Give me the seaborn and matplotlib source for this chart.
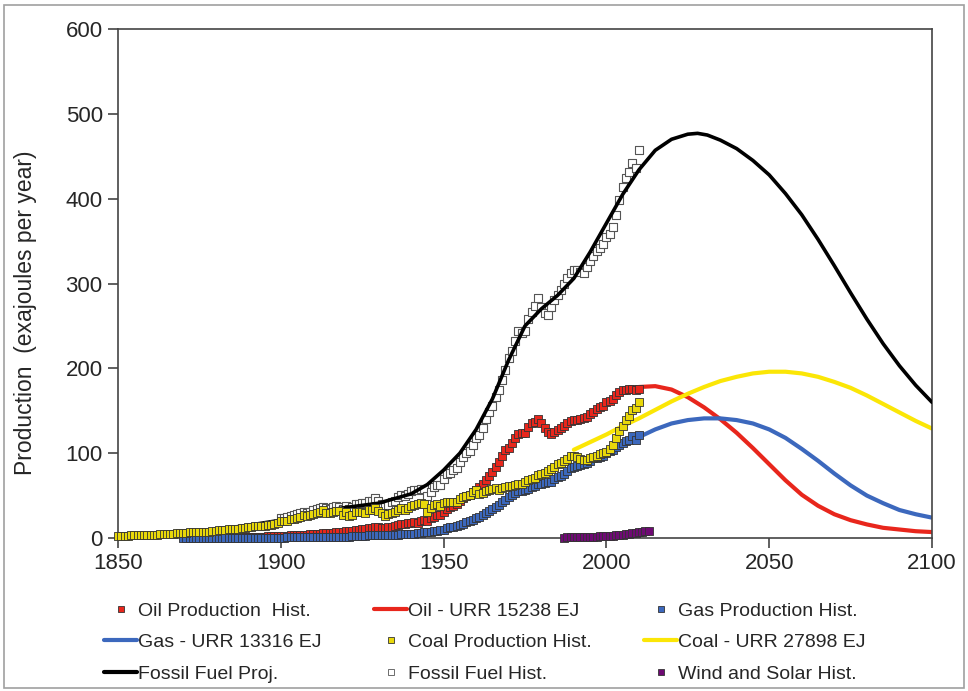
import numpy as np
import pandas as pd
import seaborn as sns
import matplotlib.pyplot as plt
from matplotlib.lines import Line2D
from matplotlib.patches import Rectangle

# --- DATA (EJ per year) ---
oil_years = list(range(1875, 2011))
oil_hist = [0.4, 0.4, 0.5, 0.6, 0.7,
            0.8, 0.8, 0.9, 0.9, 1.0, 1.0, 1.1, 1.1, 1.2, 1.3,
            1.3, 1.5, 1.5, 1.6, 1.6, 1.7, 1.8, 1.9, 2.0, 2.2,
            2.4, 2.6, 2.9, 3.0, 3.3, 3.3, 3.4, 3.8, 4.0, 4.2,
            4.5, 4.7, 5.0, 5.5, 5.8, 6.0, 6.3, 6.8, 6.8, 7.0,
            8.0, 8.2, 8.8, 9.5, 9.8, 10.2, 10.5, 11.4, 12.0, 13.0,
            12.5, 12.2, 11.8, 12.5, 13.0, 14.0, 15.0, 16.5, 16.5, 17.5,
            18.0, 19.0, 18.0, 19.5, 21.0, 20.0, 23.0, 25.0, 27.5, 27.5,
            30.5, 34.0, 36.0, 38.0, 40.0, 44.0, 47.0, 49.0, 51.0, 54.0,
            57.0, 60.0, 64.0, 68.0, 73.0, 78.0, 84.0, 90.0, 97.0, 104.0,
            106, 112, 118, 123, 124, 124, 131, 135, 137, 140,
            136, 130, 125, 123, 125, 127, 130, 132, 135, 138,
            139, 139, 140, 141, 143, 146, 149, 152, 155, 156,
            160, 162, 164, 168, 172, 174, 175, 176, 176, 174, 176]

gas_years = list(range(1870, 2011))
gas_hist = [0.1, 0.1, 0.1, 0.1, 0.1, 0.1, 0.2, 0.2, 0.2, 0.2,
            0.2, 0.2, 0.2, 0.2, 0.2, 0.2, 0.2, 0.3, 0.3, 0.3,
            0.3, 0.3, 0.3, 0.3, 0.3, 0.3, 0.3, 0.3, 0.4, 0.4,
            0.5, 0.5, 0.6, 0.6, 0.6, 0.7, 0.8, 0.9, 0.9, 1.0,
            1.1, 1.1, 1.2, 1.2, 1.3, 1.3, 1.5, 1.6, 1.5, 1.5,
            1.7, 1.6, 1.8, 2.1, 2.4, 2.5, 2.7, 3.0, 3.2, 3.7,
            3.6, 3.3, 3.1, 3.1, 3.4, 3.7, 4.1, 4.5, 4.4, 4.6,
            5.0, 5.3, 5.6, 6.0, 6.5, 6.5, 7.0, 7.8, 8.5, 9.0,
            10.0, 11.5, 12.5, 13.5, 14.5, 15.5, 17.0, 18.5, 19.5, 21.5,
            23.5, 25.0, 27.0, 29.0, 31.5, 34.0, 36.5, 39.0, 42.0, 45.0,
            48.0, 50.5, 53.0, 55.0, 55.5, 56.0, 58.0, 60.0, 61.0, 64.0,
            64.0, 65.0, 65.5, 66.0, 70.0, 72.0, 73.0, 76.0, 79.0, 82.0,
            84.0, 85.0, 86.0, 87.0, 88.0, 91.0, 94.0, 94.0, 95.0, 97.0,
            100.0, 102.0, 104.0, 107.0, 110.0, 112.0, 114.0, 116.0, 120.0, 116.0, 122.0]

coal_years = list(range(1850, 2011))
coal_hist = [2.0, 2.2, 2.4, 2.7, 3.0, 3.1, 3.3, 3.4, 3.4, 3.6,
             3.8, 4.0, 4.1, 4.3, 4.6, 4.8, 4.9, 5.2, 5.4, 5.6,
             5.9, 6.3, 6.8, 7.3, 7.1, 7.3, 7.5, 7.6, 7.6, 7.9,
             8.6, 9.0, 9.5, 10.0, 10.2, 10.3, 10.5, 11.0, 11.8, 12.0,
             13.0, 13.5, 13.7, 13.6, 13.8, 14.6, 15.2, 15.8, 16.8, 18.2,
             19.5, 20.0, 20.5, 22.0, 22.2, 23.2, 24.8, 27.0, 26.0, 26.8,
             28.5, 29.0, 30.5, 32.5, 29.5, 29.0, 30.8, 32.0, 31.5, 27.5,
             30.5, 25.5, 27.0, 31.0, 31.0, 31.0, 30.0, 33.0, 33.0, 35.0,
             32.0, 29.0, 26.5, 28.0, 30.0, 31.0, 33.5, 35.5, 33.0, 35.0,
             38.0, 39.0, 40.0, 41.0, 40.0, 31.0, 35.0, 38.5, 40.0, 38.0,
             41.0, 43.0, 42.0, 43.0, 43.0, 46.0, 48.0, 49.0, 51.0, 54.0,
             57.0, 52.0, 53.0, 55.0, 57.0, 58.0, 59.0, 57.0, 59.0, 60.0,
             61.0, 61.0, 62.0, 64.0, 64.0, 66.0, 68.0, 70.0, 71.0, 74.0,
             76.0, 77.0, 79.0, 81.0, 84.0, 87.0, 88.0, 91.0, 93.0, 97.0,
             97.0, 95.0, 93.0, 92.0, 92.0, 94.0, 96.0, 97.0, 99.0, 100.0,
             101.0, 105.0, 110.0, 118.0, 126.0, 132.0, 139.0, 144.0, 151.0, 153.0, 160.0]

fossil_years = list(range(1900, 2011))
fossil_hist = [23, 24, 25, 26, 27, 28, 29, 31, 30, 31,
               33, 34, 35, 37, 35, 34, 36, 38, 37, 34,
               38, 34, 36, 40, 40, 41, 41, 44, 44, 47,
               44, 40, 37, 39, 42, 44, 48, 51, 49, 52,
               55, 57, 57, 58, 58, 50, 54, 60, 63, 62,
               70, 76, 77, 80, 82, 90, 96, 100, 103, 110,
               118, 122, 130, 140, 148, 156, 166, 174, 186, 198,
               212, 220, 232, 244, 242, 244, 258, 266, 274, 283,
               272, 265, 263, 272, 280, 286, 292, 300, 306, 312,
               316, 316, 314, 312, 320, 326, 332, 338, 342, 346,
               355, 358, 367, 381, 398, 414, 424, 432, 442, 436, 457]

wind_years = list(range(1987, 2014))
wind_solar = [0.5, 0.6, 0.7, 0.8, 0.9, 1.0, 1.1, 1.2, 1.3,
              1.4, 1.6, 1.8, 2.0, 2.2, 2.5, 2.8, 3.1, 3.5, 3.9,
              4.4, 4.9, 5.5, 6.1, 6.8, 7.4, 8.0, 8.6]

fossil_proj_years = [1850, 1860, 1870, 1880, 1890, 1900, 1910, 1920, 1930, 1940,
                     1945, 1950, 1955, 1960, 1965, 1970, 1975, 1980, 1985, 1990,
                     1995, 2000, 2005, 2010, 2015, 2020, 2025, 2028, 2031, 2035,
                     2040, 2045, 2050, 2055, 2060, 2065, 2070, 2075, 2080, 2085,
                     2090, 2095, 2100]
fossil_proj = [3, 5, 7, 10, 15, 21, 30, 36, 41, 52,
               63, 80, 100, 128, 164, 210, 250, 270, 286, 306,
               337, 371, 405, 434, 457, 470, 476, 477, 475, 469,
               459, 445, 428, 406, 381, 352, 321, 289, 258, 229,
               203, 180, 160]

oil_proj_years = [2005, 2010, 2015, 2020, 2025, 2030, 2035, 2040, 2045, 2050,
                  2055, 2060, 2065, 2070, 2075, 2080, 2085, 2090, 2095, 2100]
oil_proj = [175, 178, 179, 175, 166, 154, 140, 124, 106, 87,
            68, 51, 38, 28, 21, 16, 12, 10, 8, 7]

gas_proj_years = [2010, 2015, 2020, 2025, 2030, 2035, 2040, 2045, 2050, 2055,
                  2060, 2065, 2070, 2075, 2080, 2085, 2090, 2095, 2100]
gas_proj = [119, 128, 135, 139, 141, 141, 139, 135, 128, 118,
            105, 91, 76, 62, 50, 41, 33, 28, 24]

coal_proj_years = [1990, 1995, 2000, 2005, 2010, 2015, 2020, 2025, 2030, 2035,
                   2040, 2045, 2050, 2055, 2060, 2065, 2070, 2075, 2080, 2085,
                   2090, 2095, 2100]
coal_proj = [104, 113, 122, 132, 141, 151, 161, 170, 178, 185,
             190, 194, 196, 196, 194, 190, 184, 177, 168, 158,
             148, 138, 129]

# --- COLOURS ---
RED = '#e8261c'
BLUE = '#3c68bd'
YELLOW = '#fbe606'
COAL_FILL = '#e9d80a'
PURPLE = '#6e0a73'

sns.set_style('white')
plt.rcParams['font.family'] = ['Liberation Sans', 'DejaVu Sans']

fig = plt.figure(figsize=(9.68, 6.91), dpi=100)
ax = fig.add_axes([118 / 968, 1 - 538 / 691, (932 - 118) / 968, (538 - 29) / 691])

# projection lines
sns.lineplot(x=oil_proj_years, y=oil_proj, color=RED, lw=3, ax=ax, zorder=2)
sns.lineplot(x=gas_proj_years, y=gas_proj, color=BLUE, lw=3, ax=ax, zorder=2)
sns.lineplot(x=coal_proj_years, y=coal_proj, color=YELLOW, lw=3, ax=ax, zorder=2)

# historical markers
mk = dict(marker='s', s=30, linewidth=0.6, edgecolor='#333333', clip_on=False, ax=ax)
sns.scatterplot(x=oil_years, y=oil_hist, color=RED, zorder=3, **mk)
sns.scatterplot(x=gas_years, y=gas_hist, color=BLUE, zorder=3.2, **mk)
sns.scatterplot(x=fossil_years, y=fossil_hist, color='white', marker='s', s=30,
                linewidth=0.8, edgecolor='#555555', clip_on=False, zorder=3.5, ax=ax)
sns.lineplot(x=fossil_proj_years, y=fossil_proj, color='black', lw=2.6, ax=ax, zorder=4)
sns.scatterplot(x=coal_years, y=coal_hist, color=COAL_FILL, zorder=4.5, **mk)
sns.scatterplot(x=wind_years, y=wind_solar, color=PURPLE, zorder=6, **mk)

ax.set_xlim(1850, 2100)
ax.set_ylim(0, 600)
ax.set_xticks(range(1850, 2101, 50))
ax.set_yticks(range(0, 601, 100))
ax.tick_params(axis='both', direction='out', length=7, width=1.2, color='#444444',
               labelsize=16, pad=4, bottom=True, left=True)
for side in ['left', 'bottom', 'right', 'top']:
    ax.spines[side].set_color('#444444')
    ax.spines[side].set_linewidth(1.2)
ax.set_ylabel('Production  (exajoules per year)', fontsize=16.5)
ax.yaxis.set_label_coords(-0.099, 0.442)
ax.set_xlabel('')

# legend (column-major order to match the row layout of the reference)
def mhandle(fc, ec='#333333'):
    return Line2D([], [], ls='none', marker='s', markersize=5, markerfacecolor=fc,
                  markeredgecolor=ec, markeredgewidth=0.6)

def lhandle(c):
    return Line2D([], [], color=c, lw=3)

entries = [
    (mhandle(RED), 'Oil Production  Hist.'),
    (lhandle(BLUE), 'Gas - URR 13316 EJ'),
    (lhandle('black'), 'Fossil Fuel Proj.'),
    (lhandle(RED), 'Oil - URR 15238 EJ'),
    (mhandle(COAL_FILL), 'Coal Production Hist.'),
    (mhandle('white', '#555555'), 'Fossil Fuel Hist.'),
    (mhandle(BLUE), 'Gas Production Hist.'),
    (lhandle(YELLOW), 'Coal - URR 27898 EJ'),
    (mhandle(PURPLE), 'Wind and Solar Hist.'),
]
fig.legend([e[0] for e in entries], [e[1] for e in entries], ncol=3,
           loc='upper left', bbox_to_anchor=(104 / 968, 1 - 602 / 691),
           frameon=False, fontsize=14, handlelength=1.7, handletextpad=0.05,
           columnspacing=2.7, labelspacing=0.72, borderpad=0, borderaxespad=0)

fig.patches.append(Rectangle((4 / 968, 3 / 691), 960 / 968, 683 / 691,
                             transform=fig.transFigure, fill=False,
                             edgecolor='#a0a0a0', lw=1.2))

fig.savefig('out.png', dpi=100)
